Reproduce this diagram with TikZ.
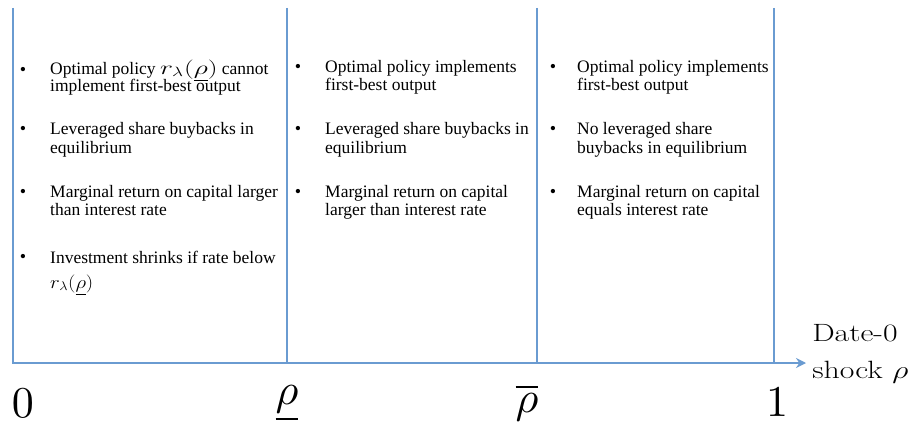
\documentclass[tikz,border=0pt]{standalone}
\usepackage[no-math]{fontspec}
\setmainfont{Liberation Serif}
\newfontfamily\lmfont{Latin Modern Roman}
\usepackage{amsmath}
\definecolor{axisblue}{HTML}{6A9BD1}
\usetikzlibrary{arrows.meta}

\tikzset{
  rule/.style={draw=axisblue, line width=2.6pt},
  item/.style={anchor=base west, align=left, inner sep=0pt,
    font=\fontsize{17.5}{18}\selectfont},
  bul/.style={anchor=base, inner sep=0pt, font=\fontsize{18}{18}\selectfont},
  tick/.style={anchor=base, inner sep=0pt, scale=4.4, transform shape},
}
\newcommand{\rlam}[3]{\scalebox{#1}[#2]{$r_\lambda(#3)$}}

\begin{document}
\begin{tikzpicture}[x=1pt, y=-1pt]
    \useasboundingbox (0,0) rectangle (912,425);

    % axis and region borders
    \coordinate (o) at (13,363);
    \coordinate (tip) at (806,363);
    \coordinate (t0) at (13,8);
    \coordinate (t1) at (287,8);   \coordinate (b1) at (287,363);
    \coordinate (t2) at (537,8);   \coordinate (b2) at (537,363);
    \coordinate (t3) at (774,8);   \coordinate (b3) at (774,363);

    \draw[rule, -{Stealth[length=10pt, width=10pt]}] (t0) -- (o) -- (tip);
    \draw[rule] (t1) -- (b1);
    \draw[rule] (t2) -- (b2);
    \draw[rule] (t3) -- (b3);

    % first region (items sit on their last line)
    \node[bul] (p11) at (23,76) {\textbullet};
    \node[item] (a11) at (50,92) {Optimal policy \rlam{1.6}{1.12}{\underline{\rho}} cannot\\[-3pt]implement first-best output};
    \node[bul] (p12) at (23,135) {\textbullet};
    \node[item] (a12) at (50,153) {Leveraged share buybacks in\\equilibrium};
    \node[bul] (p13) at (23,197) {\textbullet};
    \node[item] (a13) at (50,215) {Marginal return on capital larger\\than interest rate};
    \node[bul] (p14) at (23,262) {\textbullet};
    \node[item] (a14) at (50,288) {Investment shrinks if rate below\\[7pt]\rlam{1.2}{1.05}{\underline{\rho}}};

    % second region
    \node[bul] (p21) at (298,73) {\textbullet};
    \node[item] (a21) at (325,91) {Optimal policy implements\\first-best output};
    \node[bul] (p22) at (298,135) {\textbullet};
    \node[item] (a22) at (325,153) {Leveraged share buybacks in\\equilibrium};
    \node[bul] (p23) at (298,197) {\textbullet};
    \node[item] (a23) at (325,215) {Marginal return on capital\\larger than interest rate};

    % third region
    \node[bul] (p31) at (553,73) {\textbullet};
    \node[item] (a31) at (577,91) {Optimal policy implements\\first-best output};
    \node[bul] (p32) at (553,135) {\textbullet};
    \node[item] (a32) at (577,153) {No leveraged share\\buybacks in equilibrium};
    \node[bul] (p33) at (553,197) {\textbullet};
    \node[item] (a33) at (577,215) {Marginal return on capital\\equals interest rate};

    % points on the axis
    \node[tick] (l0) at (23,417) {$0$};
    \node[tick] (lrl) at (287,404) {$\underline{\rho}$};
    \node[tick] (lrh) at (527,412) {$\overline{\rho}$};
    \node[tick] (l1) at (777,416) {$1$};

    \node[anchor=base west, align=left, inner sep=0pt, xscale=1.27, transform shape,
      font=\lmfont\fontsize{25}{37}\selectfont] (name) at (812,378) {Date-0\\shock $\rho$};
\end{tikzpicture}
\end{document}
